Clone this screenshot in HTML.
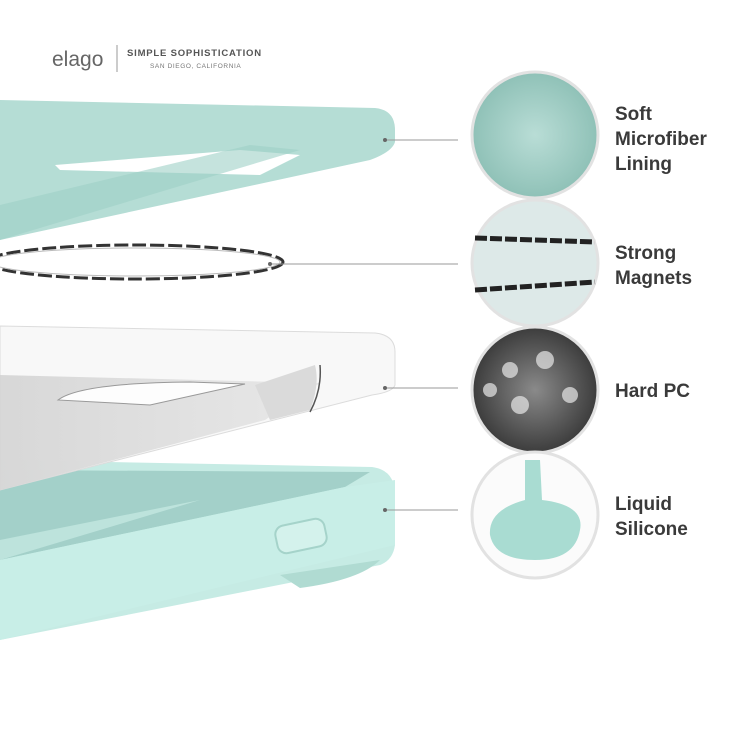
<!DOCTYPE html>
<html><head><meta charset="utf-8"><style>
html,body{margin:0;padding:0;background:#fff;}
svg{display:block}
text{font-family:"Liberation Sans",sans-serif;}
</style></head><body>
<svg width="750" height="750" viewBox="0 0 750 750" xmlns="http://www.w3.org/2000/svg">
<defs>
<radialGradient id="tex" cx="50%" cy="50%" r="50%"><stop offset="0" stop-color="#b9ddd6"/><stop offset="1" stop-color="#8fc1b7"/></radialGradient>
<radialGradient id="pc" cx="50%" cy="50%" r="50%"><stop offset="0" stop-color="#8a8a8a"/><stop offset="1" stop-color="#3c3c3c"/></radialGradient>
<linearGradient id="pcl" x1="0" y1="0" x2="1" y2="0"><stop offset="0" stop-color="#d4d4d4"/><stop offset="1" stop-color="#e6e6e6"/></linearGradient>
</defs>
<!-- logo -->
<text x="52" y="66" font-size="21" fill="#666">elago</text>
<line x1="117" y1="45" x2="117" y2="72" stroke="#999" stroke-width="1"/>
<text x="127" y="56" font-size="9.5" font-weight="bold" fill="#555" letter-spacing="0.8">SIMPLE SOPHISTICATION</text>
<text x="150" y="68" font-size="6.5" fill="#777" letter-spacing="0.6">SAN DIEGO, CALIFORNIA</text>

<!-- top microfiber layer -->
<path d="M0,100 L375,108 Q395,110 395,130 L395,142 Q392,152 370,160 L0,240 Z" fill="#b5ddd5"/>
<path d="M55,165 L240,150 L300,155 L260,175 L60,170 Z" fill="#ffffff"/>
<path d="M0,205 L250,145 L300,150 L0,240 Z" fill="#9fd0c6" opacity="0.6"/>

<!-- magnet ring -->
<ellipse cx="135" cy="262" rx="148" ry="17" fill="none" stroke="#333" stroke-width="3" stroke-dasharray="14 4"/>
<ellipse cx="135" cy="262" rx="145" ry="14" fill="none" stroke="#bbb" stroke-width="1"/>

<!-- silicone bottom layer -->
<path d="M0,460 L372,467 Q395,470 395,495 L395,545 Q393,560 380,565 L0,640 Z" fill="#c6ebe4"/>
<path d="M0,470 L370,472 L345,487 L0,560 Z" fill="#a3d0c9"/>
<path d="M0,540 L200,500 L0,560 Z" fill="#bde3dc"/>
<path d="M345,487 L395,480 L395,545 L0,640 L0,560 Z" fill="#c8eee7"/>
<path d="M280,575 L380,560 Q360,580 300,588 Z" fill="#b0dbd2"/>
<rect x="276" y="522" width="50" height="28" rx="9" fill="#d4f2ec" stroke="#a5d3ca" stroke-width="2" transform="rotate(-12 301 536)"/>

<!-- clear PC layer -->
<path d="M0,326 L375,333 Q395,335 395,352 L395,385 Q393,392 372,395 L0,490 Z" fill="#f7f7f7" fill-opacity="0.92" stroke="#dcdcdc" stroke-width="1"/>
<path d="M0,375 L320,383 L265,420 L0,490 Z" fill="url(#pcl)" fill-opacity="0.9"/>
<path d="M315,365 Q320,385 310,410 L270,420 L255,385 Z" fill="#dadada"/>
<path d="M58,400 Q80,383 190,382 L245,384 L150,405 Z" fill="#fdfdfd" stroke="#999" stroke-width="1"/>
<path d="M320,365 Q322,390 310,412" fill="none" stroke="#555" stroke-width="1.5"/>

<!-- connectors -->
<g stroke="#999" stroke-width="1">
<line x1="385" y1="140" x2="458" y2="140"/>
<line x1="270" y1="264" x2="458" y2="264"/>
<line x1="385" y1="388" x2="458" y2="388"/>
<line x1="385" y1="510" x2="458" y2="510"/>
</g>
<g fill="#666"><circle cx="385" cy="140" r="2"/><circle cx="270" cy="264" r="2"/><circle cx="385" cy="388" r="2"/><circle cx="385" cy="510" r="2"/></g>

<!-- circles -->
<g stroke="#e2e2e2" stroke-width="3">
<circle cx="535" cy="135" r="63" fill="url(#tex)"/>
<circle cx="535" cy="263" r="63" fill="#dde9e8"/>
<circle cx="535" cy="390" r="63" fill="url(#pc)"/>
<circle cx="535" cy="515" r="63" fill="#fbfbfb"/>
</g>
<g stroke="#222" stroke-width="5" fill="none" stroke-dasharray="12 3">
<path d="M475,238 L595,242"/><path d="M475,290 L595,282"/>
</g>
<g fill="#e8e8e8" opacity="0.7"><circle cx="510" cy="370" r="8"/><circle cx="545" cy="360" r="9"/><circle cx="570" cy="395" r="8"/><circle cx="520" cy="405" r="9"/><circle cx="490" cy="390" r="7"/></g>
<path d="M525,460 L540,460 L542,500 Q585,505 580,530 Q575,560 535,560 Q495,560 490,535 Q488,510 525,500 Z" fill="#a9dcd2"/>

<!-- labels -->
<g font-size="19" font-weight="bold" fill="#3a3a3a">
<text x="615" y="120">Soft</text>
<text x="615" y="145">Microfiber</text>
<text x="615" y="170">Lining</text>
<text x="615" y="259">Strong</text>
<text x="615" y="284">Magnets</text>
<text x="615" y="397">Hard PC</text>
<text x="615" y="510">Liquid</text>
<text x="615" y="535">Silicone</text>
</g>
</svg>
</body></html>
